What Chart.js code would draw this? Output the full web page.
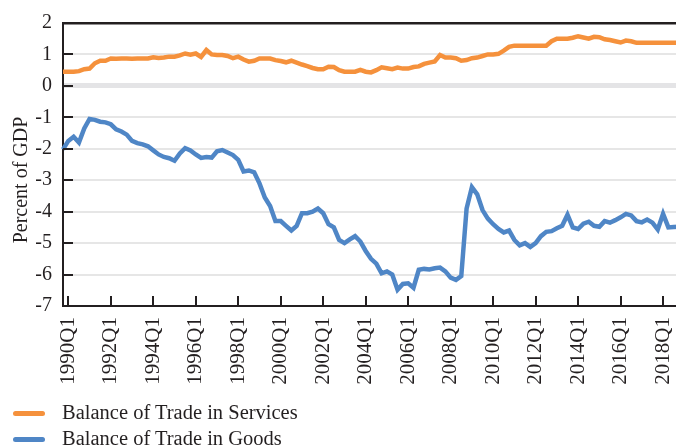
<!DOCTYPE html>
<html>
<head>
<meta charset="utf-8">
<script src="https://cdn.jsdelivr.net/npm/chart.js@4.4.1/dist/chart.umd.min.js"></script>
<style>
  html, body { margin: 0; padding: 0; overflow: hidden; background: #fff; }
  #wrap { position: relative; width: 679px; height: 446px; }
  .legend { position: absolute; left: 13px; font: 20.5px "Liberation Serif", serif; color: #231f20; line-height: 24px; }
  .legend span { display: inline-block; width: 32px; height: 5px; border-radius: 3px; vertical-align: middle; margin-right: 17px; position: relative; top: -1px; }
</style>
</head>
<body>
<div id="wrap">
  <canvas id="chart"></canvas>
  <div class="legend" style="top:400px"><span style="background:#f5913c"></span>Balance of Trade in Services</div>
  <div class="legend" style="top:426px"><span style="background:#4f86c6"></span>Balance of Trade in Goods</div>
</div>
<script>
// quarters 1989Q4 .. 2018Q4
const quarters = [];
for (let y = 1989; y <= 2018; y++) {
  for (let q = 1; q <= 4; q++) {
    if (y === 1989 && q < 4) continue;
    quarters.push(y + "Q" + q);
  }
}

const tickLabels = ["1990Q1", "1992Q1", "1994Q1", "1996Q1", "1998Q1", "2000Q1", "2002Q1", "2004Q1",
  "2006Q1", "2008Q1", "2010Q1", "2012Q1", "2014Q1", "2016Q1", "2018Q1"];

// percent of GDP
const services = [
  0.45, 0.45, 0.45, 0.47, 0.53, 0.55, 0.72, 0.8, 0.8, 0.87,
  0.86, 0.87, 0.87, 0.86, 0.87, 0.87, 0.87, 0.91, 0.89, 0.9,
  0.93, 0.93, 0.97, 1.03, 0.99, 1.03, 0.92, 1.14, 1.0, 0.98,
  0.98, 0.95, 0.88, 0.93, 0.84, 0.77, 0.8, 0.87, 0.87, 0.87,
  0.82, 0.79, 0.75, 0.8, 0.74, 0.68, 0.63, 0.57, 0.53, 0.53,
  0.61, 0.6, 0.5, 0.45, 0.45, 0.45, 0.51, 0.45, 0.43, 0.5,
  0.59, 0.56, 0.53, 0.58, 0.55, 0.55, 0.6, 0.62, 0.7, 0.74,
  0.78, 0.98, 0.9, 0.9, 0.88, 0.8, 0.82, 0.88, 0.9, 0.95,
  1.0, 1.0, 1.02, 1.12, 1.24, 1.28, 1.28, 1.28, 1.28, 1.28,
  1.28, 1.28, 1.42, 1.5, 1.5, 1.5, 1.53, 1.58, 1.54, 1.5,
  1.56, 1.55, 1.48, 1.46, 1.42, 1.38, 1.44, 1.42, 1.37, 1.37,
  1.37, 1.37, 1.37, 1.37, 1.37, 1.37, 1.37
];

const goods = [
  -2.02, -1.75, -1.62, -1.8, -1.35, -1.05, -1.08, -1.14, -1.16, -1.22,
  -1.38, -1.45, -1.55, -1.75, -1.82, -1.86, -1.92, -2.05, -2.18, -2.26,
  -2.3, -2.38, -2.15, -1.98, -2.05, -2.18, -2.29, -2.26, -2.28, -2.08,
  -2.04, -2.12, -2.2, -2.35, -2.72, -2.69, -2.75, -3.1, -3.55, -3.82,
  -4.3, -4.3, -4.45, -4.6, -4.45, -4.05, -4.05, -4.0, -3.9, -4.05,
  -4.4, -4.5, -4.9, -5.0, -4.88, -4.78, -4.95, -5.25, -5.5, -5.65,
  -5.96, -5.9, -6.0, -6.48, -6.3, -6.28, -6.42, -5.85, -5.82, -5.84,
  -5.8, -5.78, -5.9, -6.1, -6.17, -6.05, -3.9, -3.22, -3.45, -3.95,
  -4.22, -4.4, -4.55, -4.66, -4.6, -4.9, -5.07, -5.0, -5.12, -5.0,
  -4.78, -4.64, -4.62, -4.53, -4.45, -4.1, -4.5, -4.55, -4.38, -4.32,
  -4.45, -4.48, -4.3, -4.35, -4.27, -4.18, -4.07, -4.12, -4.3, -4.34,
  -4.25, -4.35, -4.57, -4.07, -4.5, -4.49, -4.48
];

const FONT = "'Liberation Serif', serif";
const TEXT = "#231f20";

// top frame, inside tick marks, rotated y title
const extras = {
  id: "extras",
  afterDraw(chart) {
    const { ctx, chartArea, scales } = chart;
    const top = Math.round(chartArea.top);
    ctx.save();
    ctx.fillStyle = "#231f20";
    ctx.fillRect(chartArea.left - 1, top - 1, chartArea.right - chartArea.left + 1, 2.5);
    ctx.restore();

    ctx.save();
    ctx.strokeStyle = TEXT;
    ctx.lineWidth = 2;
    ctx.beginPath();
    scales.y.ticks.forEach((t, i) => {
      const y = Math.round(scales.y.getPixelForTick(i));
      ctx.moveTo(chartArea.left, y);
      ctx.lineTo(chartArea.left + 10, y);
    });
    scales.x.ticks.forEach((t, i) => {
      if (!tickLabels.includes(quarters[t.value])) return;
      const x = Math.round(scales.x.getPixelForTick(i));
      ctx.moveTo(x, chartArea.bottom);
      ctx.lineTo(x, chartArea.bottom - 10);
    });
    ctx.stroke();
    ctx.restore();

    ctx.save();
    ctx.translate(22, 180);
    ctx.rotate(-Math.PI / 2);
    ctx.fillStyle = TEXT;
    ctx.font = "20px " + FONT;
    ctx.textAlign = "center";
    ctx.textBaseline = "middle";
    ctx.fillText("Percent of GDP", 0, 0);
    ctx.restore();
  },
};

new Chart(document.getElementById("chart"), {
  type: "line",
  data: {
    labels: quarters,
    datasets: [
      {
        label: "Balance of Trade in Services",
        data: services,
        borderColor: "#f5913c",
        borderWidth: 4.5,
        pointRadius: 0,
        tension: 0,
      },
      {
        label: "Balance of Trade in Goods",
        data: goods,
        borderColor: "#4f86c6",
        borderWidth: 4.5,
        pointRadius: 0,
        tension: 0,
      },
    ],
  },
  options: {
    responsive: true,
    maintainAspectRatio: false,
    animation: false,
    layout: { padding: { top: 13, right: 0, bottom: 0, left: 0 } },
    plugins: {
      legend: { display: false },
      tooltip: { enabled: false },
    },
    scales: {
      x: {
        type: "category",
        offset: false,
        grid: { display: false, drawTicks: false },
        border: { display: true, color: TEXT, width: 2 },
        ticks: {
          autoSkip: false,
          maxRotation: 90,
          minRotation: 90,
          padding: 11,
          color: TEXT,
          font: { family: FONT, size: 21 },
          callback: function (value) {
            const lab = quarters[value];
            return tickLabels.includes(lab) ? lab : "";
          },
        },
        afterFit(scale) {
          scale.height = 140;
          scale.paddingLeft = 0;
          scale.paddingRight = 0;
        },
      },
      y: {
        min: -7,
        max: 2,
        ticks: {
          stepSize: 1,
          padding: 11,
          color: TEXT,
          font: { family: FONT, size: 20 },
        },
        grid: {
          drawTicks: false,
          color: (c) => (c.tick.value === -7 || c.tick.value === 2 ? TEXT : c.tick.value === 0 ? "#e4e4e6" : "#e6e6e6"),
          lineWidth: (c) => (c.tick.value === 0 ? 5 : 2),
        },
        border: { display: true, color: TEXT, width: 2 },
        afterFit(scale) {
          scale.width = 63;
        },
      },
    },
  },
  plugins: [extras],
});
</script>
</body>
</html>
